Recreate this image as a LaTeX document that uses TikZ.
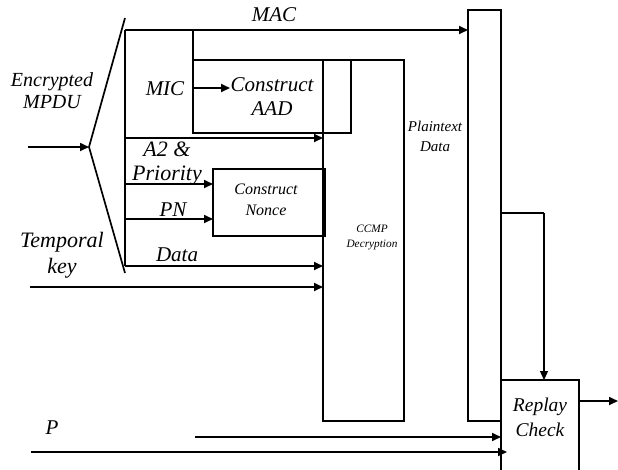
\documentclass[tikz,border=0pt]{standalone}
\usepackage{fontspec}
\setmainfont{Liberation Serif}
\usetikzlibrary{arrows.meta}
\begin{document}
\begin{tikzpicture}[x=1pt,y=-1pt,
  line width=1.7pt,
  box/.style={draw, line width=1.7pt, inner sep=0pt, outer sep=0pt},
  arr/.style={-{Triangle[length=9pt,width=8pt]}},
  big/.style={font=\fontsize{21}{24}\selectfont\itshape, align=center, inner sep=0pt},
  mid/.style={font=\fontsize{16}{21}\selectfont\itshape, align=center, inner sep=0pt},
  small/.style={font=\fontsize{15}{20}\selectfont\itshape, align=center, inner sep=0pt},
  tiny/.style={font=\fontsize{11.3}{15}\selectfont\itshape, align=center, inner sep=0pt}
]
\clip (0,0) rectangle (618,469);
\fill[white] (0,0) rectangle (618,469);

% boxes
\node[box, minimum width=158pt, minimum height=73pt] (aad) at (272,96.5) {};
\node[box, minimum width=81pt, minimum height=361pt] (ccmp) at (363.5,240.5) {};
\node[box, minimum width=112pt, minimum height=67pt] (nonce) at (269,202.5) {};
\node[box, minimum width=33pt, minimum height=411pt] (tall) at (484.5,215.5) {};
\node[box, minimum width=78pt, minimum height=100pt] (replay) at (540,430) {};

% labels
\node[big] (lmac) at (274,15) {MAC};
\node[big, font=\fontsize{20}{22}\selectfont\itshape] (lenc) at (52,91) {Encrypted\\MPDU};
\node[big] (lmic) at (165,89) {MIC};
\node[big] (laad) at (272,97) {Construct\\AAD};
\node[big, font=\fontsize{22}{24}\selectfont\itshape] (la2) at (167,164) {A2 \&\\Priority};
\node[big] (lpn) at (173,210) {PN};
\node[big] (ldata) at (177,255) {Data};
\node[mid] (lnonce) at (266,200) {Construct\\Nonce};
\node[big, font=\fontsize{22}{26}\selectfont\itshape] (ltk) at (62,255) {Temporal\\key};
\node[small] (lplain) at (435,136) {Plaintext\\Data};
\node[tiny] (lccmp) at (372,237) {CCMP\\Decryption};
\node[big, font=\fontsize{19.5}{25}\selectfont\itshape] (lrep) at (540,417) {Replay\\Check};
\node[big] (lp) at (52,428) {P};

% bracket and bus
\coordinate (btop) at (125,18);
\coordinate (bvert) at (89,147);
\coordinate (bbot) at (125,273);
\coordinate (in) at (28,147);
\coordinate (bus1) at (125,30);
\coordinate (bus2) at (125,266);
\draw (btop) -- (bvert) -- (bbot);
\draw[arr] (in) -- (bvert);
\draw (bus1) -- (bus2);

% MAC
\draw[arr] (bus1) -- (tall.west |- bus1);

% MIC
\coordinate (mictap) at (193,30);
\coordinate (micend) at (230,88);
\draw (mictap) -- (aad.north west);
\draw[arr] (aad.west |- micend) -- (micend);

% bus taps
\coordinate (t1) at (125,138);
\coordinate (t2) at (125,184);
\coordinate (t3) at (125,219);
\draw[arr] (t1) -- (ccmp.west |- t1);
\draw[arr] (t2) -- (nonce.west |- t2);
\draw[arr] (t3) -- (nonce.west |- t3);
\draw[arr] (bus2) -- (ccmp.west |- bus2);

% temporal key
\coordinate (tk) at (30,287);
\draw[arr] (tk) -- (ccmp.west |- tk);

% plaintext to replay
\coordinate (pt) at (544,213);
\draw[line width=1.3pt] (tall.east |- pt) -- (pt);
\draw[arr, line width=1.3pt] (pt) -- (pt |- replay.north);

% output
\coordinate (out) at (618,401);
\draw[arr] (replay.east |- out) -- (out);

% P lines
\coordinate (p1) at (195,437);
\coordinate (p2) at (31,452);
\draw[arr] (p1) -- (replay.west |- p1);
\draw[arr] (p2) -- ([xshift=6pt]replay.west |- p2);
\end{tikzpicture}
\end{document}
